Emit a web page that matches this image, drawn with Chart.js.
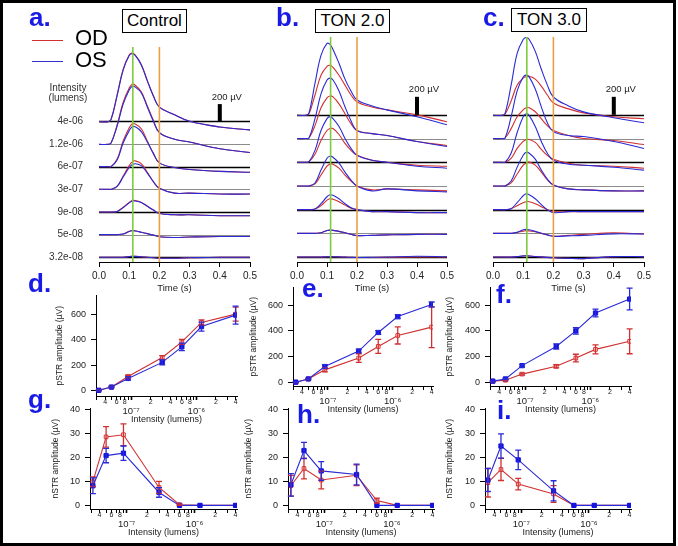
<!DOCTYPE html>
<html>
<head>
<meta charset="utf-8">
<script src="https://cdn.jsdelivr.net/npm/chart.js@4.4.0/dist/chart.umd.min.js"></script>
<style>
body { margin: 0; background: #fff; }
#fig { position: relative; width: 678px; height: 546px; overflow: hidden; font-family: "Liberation Sans", Arial, Helvetica, sans-serif; }
#frame { position: absolute; left: 0; top: 0; width: 676px; height: 546px; box-sizing: border-box; border: 3px solid #000; z-index: 5; }
canvas { position: absolute; }
.t { position: absolute; z-index: 4; white-space: nowrap; }
.letter { font-weight: bold; font-size: 26px; line-height: 26px; color: #1a1ae6; }
.box { border: 1.5px solid #000; font-size: 17px; line-height: 22px; text-align: center; color: #000; background: #fff; }
.leg { font-size: 22px; line-height: 22px; color: #000; }
.legline { position: absolute; height: 1px; width: 31px; left: 32px; z-index: 4; }
</style>
</head>
<body>
<div id="fig">
  <div id="frame"></div>
  <canvas id="ca"></canvas><canvas id="cb"></canvas><canvas id="cc"></canvas>
  <canvas id="cd"></canvas><canvas id="ce"></canvas><canvas id="cf"></canvas>
  <canvas id="cg"></canvas><canvas id="ch"></canvas><canvas id="ci"></canvas>

  <div class="t letter" style="left:29px;top:4px">a.</div>
  <div class="t letter" style="left:276px;top:4px">b.</div>
  <div class="t letter" style="left:483px;top:4px">c.</div>
  <div class="t letter" style="left:28px;top:270px">d.</div>
  <div class="t letter" style="left:302px;top:275px">e.</div>
  <div class="t letter" style="left:496px;top:281px">f.</div>
  <div class="t letter" style="left:28px;top:386px">g.</div>
  <div class="t letter" style="left:297px;top:401px">h.</div>
  <div class="t letter" style="left:497px;top:397px">i.</div>

  <div class="t box" style="left:122px;top:9px;width:63px;height:22px">Control</div>
  <div class="t box" style="left:315px;top:9px;width:73px;height:22px">TON 2.0</div>
  <div class="t box" style="left:511px;top:8px;width:74px;height:22px">TON 3.0</div>

  <div class="legline" style="top:40px;background:#d03030"></div>
  <div class="legline" style="top:61px;background:#3030d0"></div>
  <div class="t leg" style="left:75px;top:27px">OD</div>
  <div class="t leg" style="left:75px;top:49px">OS</div>
  <div class="t" style="left:38px;top:83px;width:60px;text-align:center;font-size:10px;line-height:10px;color:#333">Intensity<br>(lumens)</div>
</div>
<script>
// ERG traces, sampled at these times (s), values in µV above each trace's own baseline
const times = [0, 0.03, 0.04, 0.06, 0.08, 0.10, 0.11, 0.12, 0.14, 0.16, 0.18, 0.20, 0.25, 0.30, 0.40, 0.50];
const flashLabels = ['4e-06', '1.2e-06', '6e-07', '3e-07', '9e-08', '5e-08', '3.2e-08'];

const controlOD = [
  [-5, -5, 22, 308, 605, 770, 792, 770, 660, 473, 297, 165, 77, 0, -66, -99],
  [-5, -5, 11, 220, 484, 649, 693, 682, 605, 440, 275, 132, 55, 22, -55, -99],
  [0, 0, 0, 88, 297, 451, 495, 495, 440, 297, 154, 44, -11, -33, -55, -66],
  [0, 0, 0, 33, 154, 275, 319, 330, 297, 198, 88, 11, -44, -44, -55, -55],
  [0, 0, 0, 6, 55, 110, 132, 132, 110, 66, 22, -17, -33, -33, -44, -44],
  [0, 0, 0, 0, 6, 39, 47, 44, 28, 11, -6, -25, -33, -28, -22, -22],
  [0, 0, 0, 0, 0, 9, 11, 11, 6, 0, -6, -11, -11, -6, 0, 0]
];
const controlOS = [
  [-5, -5, 22, 297, 594, 765, 785, 765, 655, 470, 295, 165, 77, 0, -66, -99],
  [-5, -5, 11, 209, 462, 627, 671, 660, 594, 429, 264, 132, 55, 22, -55, -99],
  [0, 0, 0, 77, 275, 418, 462, 462, 407, 286, 154, 44, -11, -33, -55, -66],
  [0, 0, 0, 33, 143, 253, 286, 297, 275, 187, 88, 11, -44, -44, -55, -55],
  [0, 0, 0, 6, 50, 105, 127, 127, 110, 66, 22, -17, -33, -33, -44, -44],
  [0, 0, 0, 0, 6, 36, 45, 42, 27, 11, -6, -25, -33, -28, -22, -22],
  [0, 0, 0, 0, 0, 8, 10, 10, 6, 0, -6, -11, -11, -6, 0, 0]
];
const ton2OD = [
  [-5, -5, 11, 220, 440, 539, 550, 528, 440, 330, 220, 143, 88, 55, 0, -77],
  [0, 0, 6, 143, 341, 451, 473, 462, 385, 275, 165, 88, 55, 33, -33, -77],
  [0, 0, 6, 88, 242, 352, 374, 374, 308, 209, 132, 77, 22, 0, -33, -44],
  [0, 0, 0, 22, 121, 220, 242, 242, 198, 121, 55, 0, -44, -33, -44, -55],
  [0, 0, 0, 6, 44, 105, 121, 116, 88, 50, 17, 0, -22, -22, -33, -33],
  [0, 0, 0, 0, 6, 31, 36, 33, 22, 6, -11, -25, -22, -17, -11, -11],
  [0, 0, 0, 0, 0, 3, 4, 4, 2, 0, -3, -5, -5, -3, 0, 0]
];
const ton2OS = [
  [-5, -5, 22, 352, 660, 792, 781, 726, 572, 396, 264, 165, 99, 55, -22, -110],
  [0, 0, 6, 220, 495, 649, 671, 649, 528, 352, 198, 88, 55, 33, -33, -88],
  [0, 0, 6, 132, 352, 484, 506, 484, 396, 264, 154, 77, 22, 0, -44, -66],
  [0, 0, 0, 33, 176, 308, 330, 319, 253, 154, 66, 0, -55, -33, -55, -66],
  [0, 0, 0, 6, 66, 143, 165, 160, 121, 66, 22, 0, -22, -22, -33, -33],
  [0, 0, 0, 0, 6, 31, 36, 33, 22, 6, -11, -25, -22, -17, -11, -11],
  [0, 0, 0, 0, 0, 3, 4, 4, 2, 0, -3, -5, -3, 0, 8, 3]
];
const ton3OD = [
  [-5, -5, 6, 154, 330, 407, 424, 429, 396, 319, 220, 132, 66, 22, -22, -44],
  [0, 0, 6, 110, 242, 319, 341, 341, 297, 220, 143, 88, 33, 0, -22, -66],
  [0, 0, 0, 44, 154, 231, 253, 253, 220, 143, 77, 33, -11, -33, -44, -66],
  [0, 0, 0, 33, 132, 231, 253, 264, 231, 154, 66, 11, -33, -44, -55, -55],
  [0, 0, 0, 11, 44, 77, 88, 88, 66, 33, 0, -22, -22, -22, -22, -22],
  [0, 0, 0, 0, 11, 25, 30, 26, 17, 0, -17, -33, -22, -11, 6, -8],
  [0, 0, 0, 0, 5, 12, 13, 11, 6, 2, -4, -8, -15, -17, 4, 5]
];
const ton3OS = [
  [-5, -5, 17, 330, 682, 836, 858, 836, 704, 506, 330, 198, 99, 33, -33, -88],
  [0, 0, 6, 242, 528, 682, 704, 682, 550, 352, 176, 77, 33, 22, -33, -110],
  [0, 0, 0, 99, 330, 506, 539, 517, 396, 231, 99, 22, -22, -33, -55, -88],
  [0, 0, 0, 55, 209, 341, 374, 363, 297, 176, 77, 11, -33, -44, -55, -55],
  [0, 0, 0, 11, 77, 154, 176, 165, 121, 55, 0, -33, -22, -22, -22, -22],
  [0, 0, 0, 0, 11, 39, 44, 39, 22, 0, -17, -33, -28, -22, -6, -8],
  [0, 0, 0, 0, 5, 13, 14, 12, 6, 2, -4, -8, -15, -17, 5, 5]
];
const traceSpacing = 263;        // µV between stacked baselines
const markerTimes = [0.112, 0.2];
const scaleBarTime = 0.4;
const scaleBarUv = 200;

// pSTR / nSTR amplitudes (µV) vs intensity (lumens)
const intensities = [3.2e-8, 5e-8, 9e-8, 3e-7, 6e-7, 1.2e-6, 4e-6];
const pstrControlOD = [5, 30, 113, 262, 385, 538, 603];
const pstrControlODErr = [3, 5, 10, 15, 20, 20, 55];
const pstrControlOS = [5, 30, 98, 224, 346, 505, 595];
const pstrControlOSErr = [3, 5, 12, 20, 30, 35, 70];
const pstrTon2OD = [0, 25, 96, 188, 279, 365, 430];
const pstrTon2ODErr = [3, 5, 15, 34, 55, 67, 160];
const pstrTon2OS = [0, 25, 122, 243, 388, 512, 606];
const pstrTon2OSErr = [3, 5, 15, 15, 15, 15, 20];
const pstrTon3OD = [8, 15, 63, 124, 188, 256, 319];
const pstrTon3ODErr = [3, 5, 8, 12, 30, 35, 97];
const pstrTon3OS = [8, 25, 129, 279, 400, 540, 649];
const pstrTon3OSErr = [3, 5, 10, 20, 25, 30, 85];

const nstrControlOD = [9.9, 28.6, 29.5, 7.5, 0.3, 0, 0];
const nstrControlODErr = [2, 4.3, 4.5, 2.5, 0.3, 0, 0];
const nstrControlOS = [8.2, 20.8, 21.8, 5.4, 0, 0, 0];
const nstrControlOSErr = [3.3, 3, 3, 2, 0, 0, 0];
const nstrTon2OD = [8.2, 15.4, 10.6, 12.6, 2, 0, 0];
const nstrTon2ODErr = [4.3, 4.3, 3.7, 4.3, 1, 0, 0];
const nstrTon2OS = [8.6, 22.9, 14.4, 12.9, 0, 0, 0];
const nstrTon2OSErr = [4.7, 3.4, 3.9, 4.3, 0, 0, 0];
const nstrTon3OD = [9.5, 15, 8.9, 4.8, 0, 0, 0];
const nstrTon3ODErr = [6, 4.6, 2.4, 3.5, 0, 0, 0];
const nstrTon3OS = [10.6, 24.8, 19, 6.1, 0, 0, 0];
const nstrTon3OSErr = [4.8, 5.1, 4.1, 4.2, 0, 0, 0];

const pstrTicks = [0, 200, 400, 600];
const nstrTicks = [0, 10, 20, 30, 40];
const timeTicks = [0, 0.1, 0.2, 0.3, 0.4, 0.5];
const minorTickLabels = [2, 4, 6, 8];

const RED = '#d03030', BLUE = '#2a2ad6', RED_PT = '#d83030', BLUE_PT = '#1414e0';
const FONT = "'Liberation Sans', Arial, Helvetica, sans-serif";
Chart.defaults.font.family = FONT;
Chart.defaults.color = '#222';

const baselineOffset = i => (flashLabels.length - 1 - i) * traceSpacing;

function place(id, area, m) {
  const c = document.getElementById(id);
  const w = m.l + (area.r - area.l) + m.r, h = m.t + (area.b - area.t) + m.b;
  c.width = w; c.height = h;
  c.style.width = w + 'px'; c.style.height = h + 'px';
  c.style.left = (area.l - m.l) + 'px';
  c.style.top = (area.t - m.t) + 'px';
  return c;
}

const traceDecor = {
  id: 'traceDecor',
  beforeDatasetsDraw(chart) {
    const {ctx, chartArea: a, scales: {y}} = chart;
    ctx.save();
    flashLabels.forEach((_, i) => {
      const py = Math.round(y.getPixelForValue(baselineOffset(i))) + 0.5;
      ctx.strokeStyle = i % 2 ? '#8c8c8c' : '#000';
      ctx.lineWidth = i % 2 ? 1 : 1.6;
      ctx.beginPath(); ctx.moveTo(a.left, py); ctx.lineTo(a.right, py); ctx.stroke();
    });
    ctx.restore();
  },
  afterDatasetsDraw(chart) {
    const {ctx, chartArea: a, scales: {x, y}} = chart;
    const colors = ['#7dcc3c', '#e8a244'];
    ctx.save();
    markerTimes.forEach((t, k) => {
      const px = x.getPixelForValue(t);
      ctx.strokeStyle = colors[k]; ctx.lineWidth = 1.6;
      ctx.beginPath(); ctx.moveTo(px, a.top + 2); ctx.lineTo(px, a.bottom); ctx.stroke();
    });
    const bx = x.getPixelForValue(scaleBarTime);
    const y0 = y.getPixelForValue(baselineOffset(0));
    const y1 = y.getPixelForValue(baselineOffset(0) + scaleBarUv);
    ctx.fillStyle = '#000';
    ctx.fillRect(bx - 2, y1, 4, y0 - y1);
    ctx.font = '9.5px ' + FONT;
    ctx.fillStyle = '#222';
    ctx.textAlign = 'center'; ctx.textBaseline = 'middle';
    ctx.fillText(scaleBarUv + ' µV', bx + 7, y1 - 7);
    ctx.restore();
  }
};

function traceChart(id, area, m, od, os, showLabels) {
  const c = place(id, area, m);
  const datasets = [];
  flashLabels.forEach((lab, i) => {
    const off = baselineOffset(i);
    datasets.push({ data: times.map((t, j) => ({x: t, y: od[i][j] + off})), borderColor: RED, order: 1 });
    datasets.push({ data: times.map((t, j) => ({x: t, y: os[i][j] + off})), borderColor: BLUE, order: 0 });
  });
  datasets.forEach(d => Object.assign(d, { borderWidth: 1.1, pointRadius: 0, tension: 0.4, fill: false }));
  return new Chart(c, {
    type: 'line',
    data: { datasets },
    plugins: [traceDecor],
    options: {
      responsive: false, animation: false,
      layout: { padding: { top: m.t, right: m.r, left: 0, bottom: 0 } },
      plugins: { legend: { display: false }, tooltip: { enabled: false } },
      scales: {
        x: {
          type: 'linear', min: 0, max: 0.5,
          afterBuildTicks: s => { s.ticks = timeTicks.map(v => ({value: v})); },
          afterFit: s => { s.height = m.b; },
          border: { display: true, color: '#000', width: 1 },
          grid: { display: true, drawOnChartArea: false, tickLength: 5, color: '#000' },
          ticks: { padding: 3, maxRotation: 0, autoSkip: false, font: { size: 10 }, color: '#222', callback: v => v.toFixed(1) },
          title: { display: true, text: 'Time (s)', padding: 0, font: { size: 9.5 }, color: '#222' }
        },
        y: {
          type: 'linear', min: -55, max: 2464,
          afterBuildTicks: s => { s.ticks = flashLabels.map((_, i) => ({value: baselineOffset(i)})); },
          afterFit: s => { s.width = m.l; },
          border: { display: false },
          grid: { display: false, drawTicks: false },
          ticks: { display: showLabels, padding: 16, font: { size: 10 }, color: '#333', callback: (v, i) => flashLabels[i] }
        }
      }
    }
  });
}

const errorBars = {
  id: 'errorBars',
  afterDatasetsDraw(chart) {
    const {ctx, scales: {y}} = chart;
    chart.data.datasets.forEach((ds, i) => {
      const meta = chart.getDatasetMeta(i);
      ctx.save();
      ctx.strokeStyle = ds.borderColor; ctx.lineWidth = 1.3;
      meta.data.forEach((pt, j) => {
        const e = ds.errors[j];
        if (!e) return;
        const v = ds.data[j].y;
        const ya = y.getPixelForValue(v - e), yb = y.getPixelForValue(v + e);
        ctx.beginPath();
        ctx.moveTo(pt.x, ya); ctx.lineTo(pt.x, yb);
        ctx.moveTo(pt.x - 3, ya); ctx.lineTo(pt.x + 3, ya);
        ctx.moveTo(pt.x - 3, yb); ctx.lineTo(pt.x + 3, yb);
        ctx.stroke();
      });
      ctx.restore();
    });
  }
};

const SUP = '⁰¹²³⁴⁵⁶⁷⁸⁹';
function decadeOf(v) { return Math.floor(Math.log10(v) + 1e-9); }
function mantissa(v) { return Math.round(v / Math.pow(10, decadeOf(v))); }
function logLabel(v) {
  const e = decadeOf(v), mt = mantissa(v);
  if (mt === 1) return ['', '10⁻' + String(-e).split('').map(d => SUP[+d]).join('')];
  return minorTickLabels.includes(mt) ? String(mt) : '';
}
const xMin = 2.9e-8, xMax = 4.2e-6;
const logTicks = [];
for (let e = -8; e <= -6; e++) for (let k = 1; k <= 9; k++) {
  const v = k * Math.pow(10, e);
  if (v >= xMin && v <= xMax) logTicks.push(v);
}

function ampChart(id, area, m, yMin, yMax, yTicks, yTitle, od, odErr, os, osErr) {
  const c = place(id, area, m);
  return new Chart(c, {
    type: 'line',
    data: {
      datasets: [
        { data: intensities.map((x, i) => ({x, y: od[i]})), errors: odErr, borderColor: RED, borderWidth: 1.1,
          pointStyle: 'rect', pointRadius: 2.6, pointBorderWidth: 1, pointBorderColor: RED_PT, pointBackgroundColor: 'rgba(255,255,255,0.7)', order: 1 },
        { data: intensities.map((x, i) => ({x, y: os[i]})), errors: osErr, borderColor: BLUE, borderWidth: 1.1,
          pointStyle: 'rect', pointRadius: 3, pointBorderWidth: 1, pointBorderColor: BLUE_PT, pointBackgroundColor: BLUE_PT, order: 0 }
      ]
    },
    plugins: [errorBars],
    options: {
      responsive: false, animation: false,
      layout: { padding: { top: m.t, right: m.r, left: 0, bottom: 0 } },
      plugins: { legend: { display: false }, tooltip: { enabled: false } },
      scales: {
        x: {
          type: 'logarithmic', min: xMin, max: xMax,
          afterBuildTicks: s => { s.ticks = logTicks.map(v => ({value: v})); },
          afterFit: s => { s.height = m.b; },
          border: { display: true, color: '#000', width: 1 },
          grid: { display: true, drawOnChartArea: false, tickLength: 4, color: '#000',
                  tickWidth: ctx => (ctx.tick && mantissa(ctx.tick.value) === 1) ? 1.6 : 1 },
          ticks: {
            autoSkip: false, maxRotation: 0, minRotation: 0, padding: -1, color: '#222',
            callback: v => logLabel(v),
            font: ctx => (ctx.tick && mantissa(ctx.tick.value) === 1) ? { size: 9.5, lineHeight: 0.85 } : { size: 7, lineHeight: 1 }
          },
          title: { display: true, text: 'Intensity (lumens)', padding: 0, font: { size: 9 }, color: '#222' }
        },
        y: {
          type: 'linear', min: yMin, max: yMax,
          afterBuildTicks: s => { s.ticks = yTicks.map(v => ({value: v})); },
          afterFit: s => { s.width = m.l; },
          border: { display: true, color: '#000', width: 1 },
          grid: { display: true, drawOnChartArea: false, tickLength: 5, color: '#000' },
          ticks: { padding: 5, font: { size: 9 }, color: '#222' },
          title: { display: true, text: yTitle, padding: 0, font: { size: 8.5 }, color: '#222' }
        }
      }
    }
  });
}

const mTop = { t: 12, r: 12, b: 32 };
traceChart('ca', {l: 99, r: 250, t: 35, b: 262}, {...mTop, l: 99}, controlOD, controlOS, true);
traceChart('cb', {l: 297, r: 447, t: 35, b: 262}, {...mTop, l: 20}, ton2OD, ton2OS, false);
traceChart('cc', {l: 493, r: 644, t: 35, b: 262}, {...mTop, l: 20}, ton3OD, ton3OS, false);

const mAmp = { t: 8, r: 8, b: 29 };
const pTitle = 'pSTR amplitude (µV)', nTitle = 'nSTR amplitude (µV)';
ampChart('cd', {l: 96, r: 237, t: 293, b: 396}, {...mAmp, l: 41}, -40, 750, pstrTicks, pTitle, pstrControlOD, pstrControlODErr, pstrControlOS, pstrControlOSErr);
ampChart('ce', {l: 293, r: 433, t: 285, b: 386}, {...mAmp, l: 44}, -30, 740, pstrTicks, pTitle, pstrTon2OD, pstrTon2ODErr, pstrTon2OS, pstrTon2OSErr);
ampChart('cf', {l: 490, r: 631, t: 285, b: 386}, {...mAmp, l: 45}, -30, 740, pstrTicks, pTitle, pstrTon3OD, pstrTon3ODErr, pstrTon3OS, pstrTon3OSErr);
ampChart('cg', {l: 90, r: 237, t: 406, b: 509}, {...mAmp, l: 39}, -1.5, 40.5, nstrTicks, nTitle, nstrControlOD, nstrControlODErr, nstrControlOS, nstrControlOSErr);
ampChart('ch', {l: 288, r: 434, t: 406, b: 509}, {...mAmp, l: 44}, -1.5, 40.5, nstrTicks, nTitle, nstrTon2OD, nstrTon2ODErr, nstrTon2OS, nstrTon2OSErr);
ampChart('ci', {l: 485, r: 631, t: 406, b: 509}, {...mAmp, l: 40}, -1.5, 40.5, nstrTicks, nTitle, nstrTon3OD, nstrTon3ODErr, nstrTon3OS, nstrTon3OSErr);
</script>
</body>
</html>
